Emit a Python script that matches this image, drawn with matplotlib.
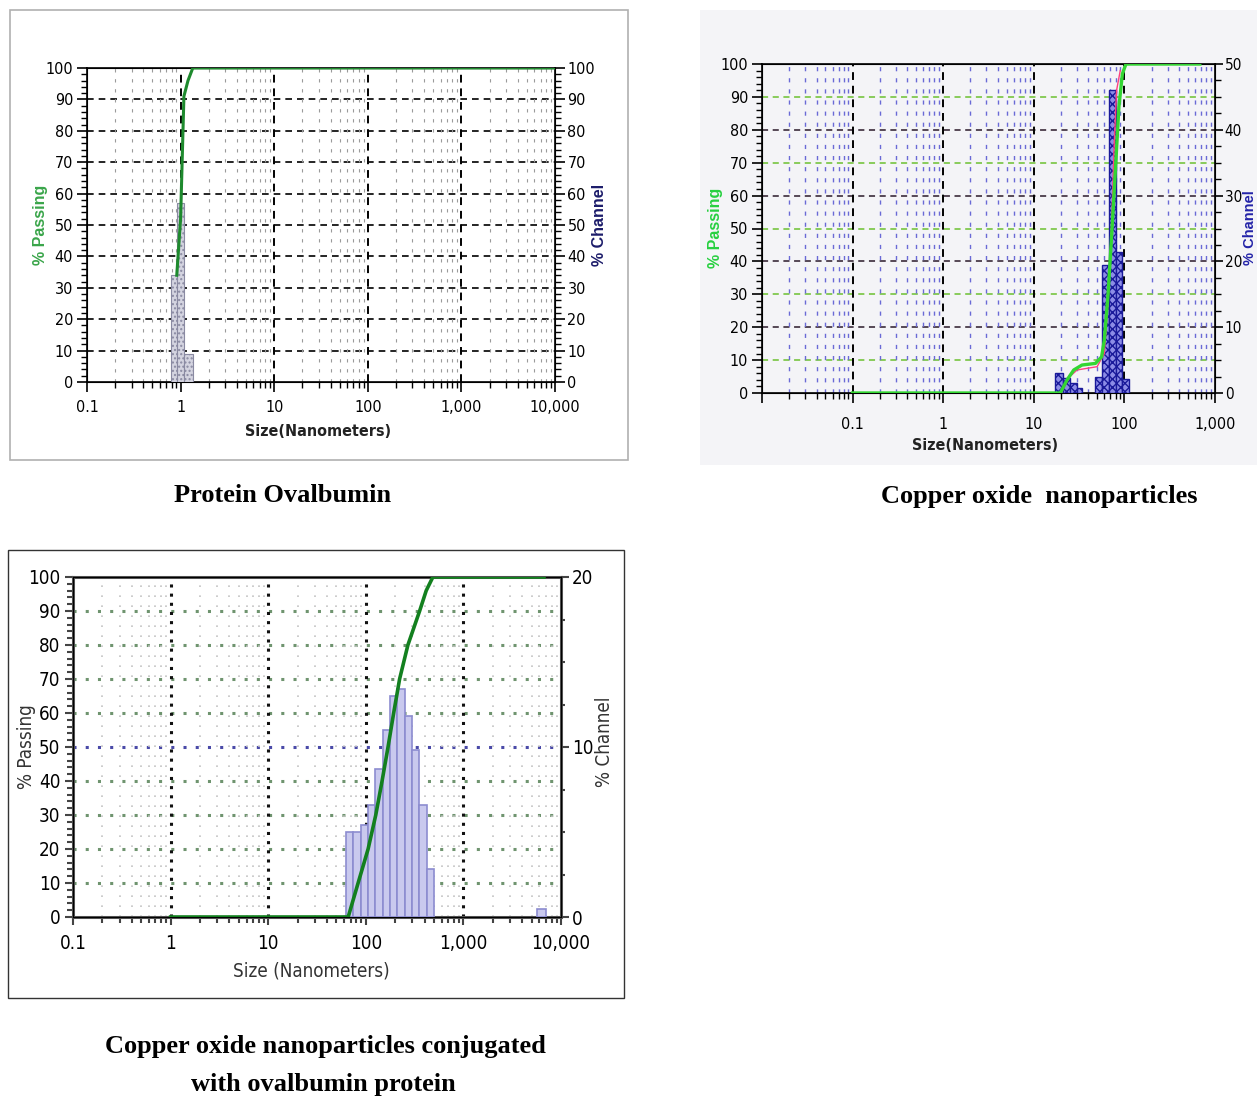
import numpy as np
import matplotlib
matplotlib.use('Agg')
import matplotlib.pyplot as plt
from matplotlib import font_manager
from matplotlib.ticker import FixedLocator, FuncFormatter, NullFormatter
from matplotlib.patches import Rectangle

W, H = 1257, 1097

# --- Protein Ovalbumin ---
p1_edges = [0.79, 0.91, 1.085, 1.35]
p1_channel = [34, 57, 9]
p1_size = [0.91, 1.0, 1.085, 1.2, 1.35, 10000]
p1_passing = [34, 52, 91, 96, 100, 100]

# --- Copper oxide nanoparticles ---
p2_edges_a = [17.3, 21.2, 25.2, 30.0, 34.0]
p2_channel_a = [3.0, 2.3, 1.5, 0.8]
p2_edges_b = [47.7, 56.6, 67.3, 80.0, 95.1, 113.1]
p2_channel_b = [2.5, 19.5, 46.0, 21.5, 2.1]
p2_size = [0.1, 19.6, 23.3, 27.6, 34, 48, 56, 60, 66, 72, 80, 87, 95, 104, 680]
p2_passing = [0, 0, 4, 7, 8.5, 9, 11, 16, 30, 47, 69, 87, 97, 100, 100]
p2_pink_size = [20, 25, 30, 50, 60, 66, 72, 77, 82, 90]
p2_pink = [0, 5, 7, 8, 12, 28, 50, 75, 92, 98]

# --- Conjugated ---
p3_edges = [62.5, 74.3, 88.4, 105.1, 125.0, 148.7, 176.8, 210.2, 250.0,
            297.3, 353.6, 420.4, 500.0]
p3_channel = [5.0, 5.0, 5.4, 6.6, 8.7, 11.0, 13.0, 13.4, 11.8, 9.8, 6.6, 2.8]
p3_tail_edges = [5700, 7000]
p3_tail_channel = [0.5]
p3_size = [1, 66, 83.4, 105.6, 126.5, 146.8, 169, 193, 222, 270, 356, 416, 487, 6700]
p3_passing = [0, 0, 10, 20, 30, 40, 50, 60, 70, 80, 90, 96, 100, 100]

# pick a narrow sans if one is installed
names = {f.name for f in font_manager.fontManager.ttflist}
condensed = {f.name for f in font_manager.fontManager.ttflist
             if f.stretch in ('condensed', 'semi-condensed', 'extra-condensed')}
if 'Liberation Sans Narrow' in names:
    SANS = ['Liberation Sans Narrow', 'DejaVu Sans']
    STRETCH = 'normal'
    NARROWED = True
elif 'DejaVu Sans' in condensed:
    SANS = ['DejaVu Sans']
    STRETCH = 'condensed'
    NARROWED = True
else:
    SANS = ['Liberation Sans', 'DejaVu Sans']
    STRETCH = 'normal'
    NARROWED = False
plt.rcParams['font.family'] = SANS
plt.rcParams['font.stretch'] = STRETCH
sc = 1.0 if NARROWED else 0.95


def rect(l, t, r, b):
    return [l / W, 1 - b / H, (r - l) / W, (b - t) / H]


def fx(x):
    return x / W


def fy(y):
    return 1 - y / H


def size_fmt(v, _):
    if v >= 1:
        return f'{v:,.0f}'
    return f'{v:g}'


def minor_positions(lo, hi):
    out = []
    for d in range(int(np.floor(np.log10(lo))), int(np.ceil(np.log10(hi)))):
        for k in range(2, 10):
            v = k * 10.0 ** d
            if lo < v < hi:
                out.append(v)
    return out


def bars(ax, edges, heights, **kw):
    edges = np.array(edges)
    ax.bar(edges[:-1], heights, width=np.diff(edges), align='edge', **kw)


fig = plt.figure(figsize=(W / 100, H / 100), dpi=100)

# frames / backgrounds
fig.patches.append(Rectangle((fx(10), fy(460)), (628 - 10) / W, (460 - 10) / H,
                             transform=fig.transFigure, fill=False, ec='#b0b0b0', lw=1.2,
                             zorder=-5))
fig.patches.append(Rectangle((fx(700), fy(465)), (1257 - 700) / W, (465 - 10) / H,
                             transform=fig.transFigure, fc='#f4f4f7', ec='none', zorder=-5))
fig.patches.append(Rectangle((fx(8), fy(998)), (624 - 8) / W, (998 - 550) / H,
                             transform=fig.transFigure, fill=False, ec='#333333', lw=1.0,
                             zorder=-5))

# ================= Panel 1 =================
ax1 = fig.add_axes(rect(87, 68, 555, 382))
ax1.set_xscale('log')
ax1.set_xlim(0.1, 10000)
ax1.set_ylim(0, 100)
for v in range(10, 100, 10):
    ax1.axhline(v, color='black', ls=(0, (4, 3)), lw=1.2, zorder=1)
for v in [1, 10, 100, 1000]:
    ax1.axvline(v, color='black', ls=(0, (4, 3)), lw=1.4, zorder=1)
for v in minor_positions(0.1, 10000):
    ax1.axvline(v, color='#9a9a9a', ls=(0, (3, 6)), lw=0.8, zorder=1)
ax1.xaxis.set_major_locator(FixedLocator([0.1, 1, 10, 100, 1000, 10000]))
ax1.xaxis.set_minor_locator(FixedLocator(minor_positions(0.1, 10000)))
ax1.xaxis.set_major_formatter(FuncFormatter(size_fmt))
ax1.xaxis.set_minor_formatter(NullFormatter())
ax1.yaxis.set_major_locator(FixedLocator(range(0, 101, 10)))
ax1.yaxis.set_minor_locator(FixedLocator(range(0, 101, 2)))
ax1.tick_params(which='major', length=7, width=1.2, labelsize=11.5 * sc, pad=3)
ax1.tick_params(which='minor', length=4, width=1.0)
ax1.tick_params(axis='x', which='major', pad=6)
for s in ax1.spines.values():
    s.set_linewidth(1.2)

tw1 = ax1.twinx()
tw1.set_ylim(0, 100)
tw1.yaxis.set_major_locator(FixedLocator(range(0, 101, 10)))
tw1.yaxis.set_minor_locator(FixedLocator(range(0, 101, 2)))
tw1.tick_params(which='major', length=7, width=1.2, labelsize=11.5 * sc, pad=2)
tw1.tick_params(which='minor', length=4, width=1.0)
bars(tw1, p1_edges, p1_channel, facecolor='#d4d4e0', edgecolor='#8a8aa2',
     hatch='....', lw=0.8, zorder=3)
tw1.plot(p1_size, p1_passing, color='#1e8a2e', lw=2.2, zorder=5,
         transform=ax1.transData)

lab = ['Liberation Sans', 'DejaVu Sans']
fig.text(fx(41), fy(225), '% Passing', rotation=90, color='#3aa54a', fontsize=11.5,
         fontweight='bold', ha='center', va='center', family=lab, stretch='normal')
fig.text(fx(600), fy(225), '% Channel', rotation=90, color='#1c1c6a', fontsize=11.5,
         fontweight='bold', ha='center', va='center', family=lab, stretch='normal')
fig.text(fx(318), fy(431), 'Size(Nanometers)', color='#222222', fontsize=11.5 * sc,
         fontweight='bold', ha='center', va='center')

# ================= Panel 2 =================
ax2 = fig.add_axes(rect(762, 64, 1215, 393))
ax2.set_facecolor('#f4f4f7')
ax2.set_xscale('log')
ax2.set_xlim(0.01, 1000)
ax2.set_ylim(0, 100)
for v in range(10, 100, 10):
    col = '#6cc030' if (v // 10) % 2 == 1 else '#2a1a2a'
    ax2.axhline(v, color=col, ls=(0, (4, 3)), lw=1.1, zorder=1)
for v in minor_positions(0.01, 1000):
    ax2.axvline(v, color='#6a6ad6', ls=(0, (3, 5)), lw=1.0, zorder=1)
for v in [0.1, 1, 10, 100]:
    ax2.axvline(v, color='black', ls=(0, (4, 3)), lw=1.4, zorder=1)
ax2.xaxis.set_major_locator(FixedLocator([0.01, 0.1, 1, 10, 100, 1000]))
ax2.xaxis.set_minor_locator(FixedLocator(minor_positions(0.01, 1000)))
ax2.xaxis.set_major_formatter(FuncFormatter(lambda v, _: '' if v < 0.05 else size_fmt(v, _)))
ax2.xaxis.set_minor_formatter(NullFormatter())
ax2.yaxis.set_major_locator(FixedLocator(range(0, 101, 10)))
ax2.yaxis.set_minor_locator(FixedLocator(range(0, 101, 2)))
ax2.tick_params(which='major', length=7, width=1.2, labelsize=11.5 * sc, pad=3)
ax2.tick_params(which='minor', length=4, width=1.0)
ax2.tick_params(axis='x', which='major', pad=10)
for s in ax2.spines.values():
    s.set_linewidth(1.2)

tw2 = ax2.twinx()
tw2.set_ylim(0, 50)
tw2.yaxis.set_major_locator(FixedLocator(range(0, 51, 10)))
tw2.yaxis.set_minor_locator(FixedLocator(np.arange(0, 50.1, 2.5)))
tw2.tick_params(which='major', length=6, width=1.2, labelsize=11 * sc, pad=1)
tw2.tick_params(which='minor', length=4, width=1.0)
plt.rcParams['hatch.linewidth'] = 1.0
bars(tw2, p2_edges_a, p2_channel_a, facecolor='#8c8ce6', edgecolor='#1a1a9a',
     hatch='xxxx', lw=1.0, zorder=3)
bars(tw2, p2_edges_b, p2_channel_b, facecolor='#8c8ce6', edgecolor='#1a1a9a',
     hatch='xxxx', lw=1.0, zorder=3)
tw2.plot(p2_pink_size, p2_pink, color='#ff4080', lw=1.0, zorder=4,
         transform=ax2.transData)
tw2.plot(p2_size, p2_passing, color='#33d633', lw=2.4, zorder=5,
         transform=ax2.transData)

fig.text(fx(716), fy(228), '% Passing', rotation=90, color='#27d040', fontsize=11.5,
         fontweight='bold', ha='center', va='center', family=lab, stretch='normal')
fig.text(fx(1250), fy(228), '% Channel', rotation=90, color='#2323a8', fontsize=10.5,
         fontweight='bold', ha='center', va='center', family=lab, stretch='normal')
fig.text(fx(985), fy(445), 'Size(Nanometers)', color='#222222', fontsize=11.5 * sc,
         fontweight='bold', ha='center', va='center')

# ================= Panel 3 =================
ax3 = fig.add_axes(rect(73, 577, 561, 917))
ax3.set_xscale('log')
ax3.set_xlim(0.1, 10000)
ax3.set_ylim(0, 100)
for v in range(10, 100, 10):
    col = '#4a4aa8' if v == 50 else '#6f946f'
    ax3.axhline(v, color=col, ls=(0, (1, 3)), lw=2.2, zorder=1)
for v in minor_positions(0.1, 10000):
    ax3.axvline(v, color='#c4c4c4', ls=(0, (1, 5)), lw=1.2, zorder=1)
for v in [1, 10, 100, 1000]:
    ax3.axvline(v, color='#111111', ls=(0, (1, 2)), lw=2.2, zorder=1)
ax3.xaxis.set_major_locator(FixedLocator([0.1, 1, 10, 100, 1000, 10000]))
ax3.xaxis.set_minor_locator(FixedLocator(minor_positions(0.1, 10000)))
ax3.xaxis.set_major_formatter(FuncFormatter(size_fmt))
ax3.xaxis.set_minor_formatter(NullFormatter())
ax3.yaxis.set_major_locator(FixedLocator(range(0, 101, 10)))
ax3.yaxis.set_minor_locator(FixedLocator(range(0, 101, 2)))
ax3.tick_params(which='major', length=6, width=1.5, labelsize=13.5 * sc, pad=3, color='#444444')
ax3.tick_params(which='minor', length=4, width=1.5, color='#444444')
ax3.tick_params(axis='x', which='major', pad=6)
for s in ax3.spines.values():
    s.set_linewidth(2.2)
    s.set_color('#555555')

tw3 = ax3.twinx()
tw3.set_ylim(0, 20)
tw3.yaxis.set_major_locator(FixedLocator([0, 10, 20]))
tw3.yaxis.set_minor_locator(FixedLocator(np.arange(0, 20.1, 2.5)))
tw3.tick_params(which='major', length=6, width=1.5, labelsize=13.5 * sc, pad=2, color='#444444')
tw3.tick_params(which='minor', length=3, width=1.5, color='#444444')
bars(tw3, p3_edges, p3_channel, facecolor='#c9c9ee', edgecolor='#8c8cd0', lw=1.2, zorder=3)
bars(tw3, p3_tail_edges, p3_tail_channel, facecolor='#c9c9ee', edgecolor='#8c8cd0',
     lw=1.2, zorder=3)
tw3.plot(p3_size, p3_passing, color='#13801f', lw=2.6, zorder=5,
         transform=ax3.transData)

fig.text(fx(27), fy(747), '% Passing', rotation=90, color='#333333', fontsize=13.5 * sc,
         ha='center', va='center')
fig.text(fx(604), fy(742), '% Channel', rotation=90, color='#333333', fontsize=13.5 * sc,
         ha='center', va='center')
fig.text(fx(311), fy(971), 'Size (Nanometers)', color='#333333', fontsize=13.5 * sc,
         ha='center', va='center')

# captions
serif = ['Liberation Serif', 'DejaVu Serif']
fig.text(fx(283), fy(496), 'Protein Ovalbumin', fontsize=19, fontweight='bold',
         ha='center', va='center', family=serif, stretch='normal')
fig.text(fx(1039), fy(496), 'Copper oxide  nanoparticles', fontsize=19, fontweight='bold',
         ha='center', va='center', family=serif, stretch='normal')
fig.text(fx(325), fy(1047), 'Copper oxide nanoparticles conjugated', fontsize=19,
         fontweight='bold', ha='center', va='center', family=serif, stretch='normal')
fig.text(fx(323), fy(1084), 'with ovalbumin protein', fontsize=19,
         fontweight='bold', ha='center', va='center', family=serif, stretch='normal')

fig.savefig('out.png', dpi=100)
